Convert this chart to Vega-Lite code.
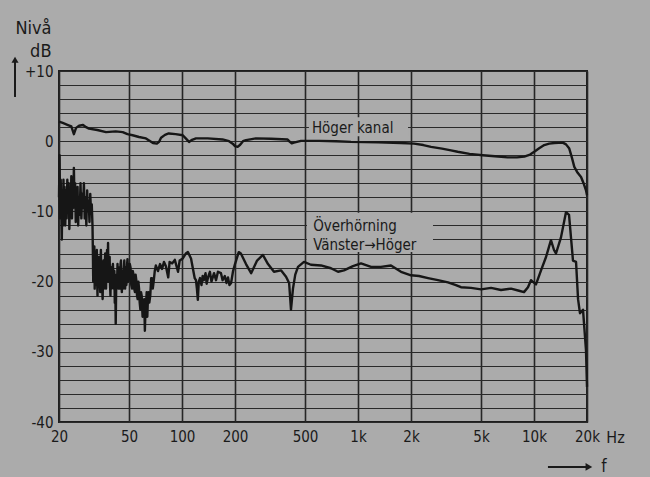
{
  "$schema": "https://vega.github.io/schema/vega-lite/v6.json",
  "width": 528,
  "height": 351,
  "autosize": {"type": "none"},
  "padding": {"left": 59, "top": 71, "right": 63, "bottom": 55},
  "background": "#ababab",
  "config": {
    "view": {"stroke": "#1e1e1e", "strokeWidth": 2},
    "font": "DejaVu Sans Condensed, Liberation Sans Narrow, DejaVu Sans, sans-serif"
  },
  "datasets": {
    "curves": [
      {"serie": "Höger kanal", "frekvens": 20, "niva": 2.8},
      {"serie": "Höger kanal", "frekvens": 21, "niva": 2.6},
      {"serie": "Höger kanal", "frekvens": 22.5, "niva": 2.3},
      {"serie": "Höger kanal", "frekvens": 23.5, "niva": 2.1},
      {"serie": "Höger kanal", "frekvens": 24.3, "niva": 1.0},
      {"serie": "Höger kanal", "frekvens": 25, "niva": 1.9},
      {"serie": "Höger kanal", "frekvens": 26, "niva": 2.2},
      {"serie": "Höger kanal", "frekvens": 27.4, "niva": 2.3},
      {"serie": "Höger kanal", "frekvens": 28.5, "niva": 2.0},
      {"serie": "Höger kanal", "frekvens": 29.6, "niva": 1.8},
      {"serie": "Höger kanal", "frekvens": 33, "niva": 1.6},
      {"serie": "Höger kanal", "frekvens": 37, "niva": 1.3},
      {"serie": "Höger kanal", "frekvens": 42, "niva": 1.4},
      {"serie": "Höger kanal", "frekvens": 46, "niva": 1.3},
      {"serie": "Höger kanal", "frekvens": 49, "niva": 1.0},
      {"serie": "Höger kanal", "frekvens": 52.4, "niva": 0.85},
      {"serie": "Höger kanal", "frekvens": 57, "niva": 0.6},
      {"serie": "Höger kanal", "frekvens": 62.4, "niva": 0.4},
      {"serie": "Höger kanal", "frekvens": 66, "niva": 0.0},
      {"serie": "Höger kanal", "frekvens": 68.4, "niva": -0.25},
      {"serie": "Höger kanal", "frekvens": 72, "niva": -0.35},
      {"serie": "Höger kanal", "frekvens": 74, "niva": -0.1},
      {"serie": "Höger kanal", "frekvens": 76, "niva": 0.5},
      {"serie": "Höger kanal", "frekvens": 80, "niva": 0.9},
      {"serie": "Höger kanal", "frekvens": 84, "niva": 1.1},
      {"serie": "Höger kanal", "frekvens": 92, "niva": 1.0},
      {"serie": "Höger kanal", "frekvens": 101, "niva": 0.85},
      {"serie": "Höger kanal", "frekvens": 105, "niva": 0.4},
      {"serie": "Höger kanal", "frekvens": 109.6, "niva": -0.1},
      {"serie": "Höger kanal", "frekvens": 114, "niva": 0.2},
      {"serie": "Höger kanal", "frekvens": 120, "niva": 0.4},
      {"serie": "Höger kanal", "frekvens": 140, "niva": 0.4},
      {"serie": "Höger kanal", "frekvens": 170, "niva": 0.25},
      {"serie": "Höger kanal", "frekvens": 185, "niva": 0.0},
      {"serie": "Höger kanal", "frekvens": 194, "niva": -0.35},
      {"serie": "Höger kanal", "frekvens": 200, "niva": -0.7},
      {"serie": "Höger kanal", "frekvens": 207, "niva": -0.8},
      {"serie": "Höger kanal", "frekvens": 214, "niva": -0.5},
      {"serie": "Höger kanal", "frekvens": 222, "niva": 0.0},
      {"serie": "Höger kanal", "frekvens": 231, "niva": 0.15},
      {"serie": "Höger kanal", "frekvens": 263, "niva": 0.4},
      {"serie": "Höger kanal", "frekvens": 320, "niva": 0.35},
      {"serie": "Höger kanal", "frekvens": 398, "niva": 0.25},
      {"serie": "Höger kanal", "frekvens": 410, "niva": -0.1},
      {"serie": "Höger kanal", "frekvens": 420, "niva": -0.3},
      {"serie": "Höger kanal", "frekvens": 432, "niva": -0.2},
      {"serie": "Höger kanal", "frekvens": 474, "niva": 0.05},
      {"serie": "Höger kanal", "frekvens": 600, "niva": 0.05},
      {"serie": "Höger kanal", "frekvens": 750, "niva": 0.0},
      {"serie": "Höger kanal", "frekvens": 912, "niva": -0.1},
      {"serie": "Höger kanal", "frekvens": 1300, "niva": -0.15},
      {"serie": "Höger kanal", "frekvens": 1755, "niva": -0.25},
      {"serie": "Höger kanal", "frekvens": 2080, "niva": -0.35},
      {"serie": "Höger kanal", "frekvens": 2350, "niva": -0.55},
      {"serie": "Höger kanal", "frekvens": 2600, "niva": -0.8},
      {"serie": "Höger kanal", "frekvens": 3000, "niva": -1.05},
      {"serie": "Höger kanal", "frekvens": 3375, "niva": -1.3},
      {"serie": "Höger kanal", "frekvens": 3680, "niva": -1.5},
      {"serie": "Höger kanal", "frekvens": 4300, "niva": -1.8},
      {"serie": "Höger kanal", "frekvens": 5110, "niva": -2.0},
      {"serie": "Höger kanal", "frekvens": 6000, "niva": -2.15},
      {"serie": "Höger kanal", "frekvens": 7080, "niva": -2.3},
      {"serie": "Höger kanal", "frekvens": 8000, "niva": -2.3},
      {"serie": "Höger kanal", "frekvens": 8800, "niva": -2.2},
      {"serie": "Höger kanal", "frekvens": 9500, "niva": -1.9},
      {"serie": "Höger kanal", "frekvens": 10030, "niva": -1.5},
      {"serie": "Höger kanal", "frekvens": 10700, "niva": -1.0},
      {"serie": "Höger kanal", "frekvens": 11430, "niva": -0.55},
      {"serie": "Höger kanal", "frekvens": 12200, "niva": -0.35},
      {"serie": "Höger kanal", "frekvens": 13030, "niva": -0.25},
      {"serie": "Höger kanal", "frekvens": 14550, "niva": -0.2},
      {"serie": "Höger kanal", "frekvens": 15200, "niva": -0.45},
      {"serie": "Höger kanal", "frekvens": 15860, "niva": -1.05},
      {"serie": "Höger kanal", "frekvens": 16400, "niva": -2.3},
      {"serie": "Höger kanal", "frekvens": 16940, "niva": -3.65},
      {"serie": "Höger kanal", "frekvens": 17700, "niva": -4.5},
      {"serie": "Höger kanal", "frekvens": 18500, "niva": -5.1},
      {"serie": "Höger kanal", "frekvens": 19200, "niva": -6.1},
      {"serie": "Höger kanal", "frekvens": 19740, "niva": -7.0},
      {"serie": "Höger kanal", "frekvens": 20000, "niva": -7.7},

      {"serie": "Överhörning", "frekvens": 20.0, "niva": -8},
      {"serie": "Överhörning", "frekvens": 20.15, "niva": -2},
      {"serie": "Överhörning", "frekvens": 20.3, "niva": -11},
      {"serie": "Överhörning", "frekvens": 20.45, "niva": -5.5},
      {"serie": "Överhörning", "frekvens": 20.6, "niva": -9},
      {"serie": "Överhörning", "frekvens": 20.75, "niva": -14},
      {"serie": "Överhörning", "frekvens": 20.9, "niva": -7},
      {"serie": "Överhörning", "frekvens": 21.05, "niva": -12},
      {"serie": "Överhörning", "frekvens": 21.2, "niva": -5.5},
      {"serie": "Överhörning", "frekvens": 21.35, "niva": -10},
      {"serie": "Överhörning", "frekvens": 21.5, "niva": -6.5},
      {"serie": "Överhörning", "frekvens": 21.7, "niva": -12},
      {"serie": "Överhörning", "frekvens": 21.9, "niva": -7},
      {"serie": "Överhörning", "frekvens": 22.1, "niva": -11},
      {"serie": "Överhörning", "frekvens": 22.3, "niva": -5.5},
      {"serie": "Överhörning", "frekvens": 22.5, "niva": -9.5},
      {"serie": "Överhörning", "frekvens": 22.7, "niva": -6},
      {"serie": "Överhörning", "frekvens": 22.9, "niva": -12.5},
      {"serie": "Överhörning", "frekvens": 23.1, "niva": -8},
      {"serie": "Överhörning", "frekvens": 23.3, "niva": -10.5},
      {"serie": "Överhörning", "frekvens": 23.5, "niva": -5},
      {"serie": "Överhörning", "frekvens": 23.7, "niva": -11},
      {"serie": "Överhörning", "frekvens": 23.9, "niva": -7},
      {"serie": "Överhörning", "frekvens": 24.1, "niva": -9.5},
      {"serie": "Överhörning", "frekvens": 24.3, "niva": -3.8},
      {"serie": "Överhörning", "frekvens": 24.5, "niva": -9},
      {"serie": "Överhörning", "frekvens": 24.7, "niva": -6},
      {"serie": "Överhörning", "frekvens": 24.9, "niva": -11.5},
      {"serie": "Överhörning", "frekvens": 25.1, "niva": -7.5},
      {"serie": "Överhörning", "frekvens": 25.3, "niva": -10},
      {"serie": "Överhörning", "frekvens": 25.5, "niva": -6.5},
      {"serie": "Överhörning", "frekvens": 25.7, "niva": -12},
      {"serie": "Överhörning", "frekvens": 25.9, "niva": -8},
      {"serie": "Överhörning", "frekvens": 26.2, "niva": -10.5},
      {"serie": "Överhörning", "frekvens": 26.5, "niva": -6},
      {"serie": "Överhörning", "frekvens": 26.8, "niva": -11},
      {"serie": "Överhörning", "frekvens": 27.1, "niva": -7.5},
      {"serie": "Överhörning", "frekvens": 27.4, "niva": -9.5},
      {"serie": "Överhörning", "frekvens": 27.7, "niva": -6},
      {"serie": "Överhörning", "frekvens": 28.0, "niva": -11},
      {"serie": "Överhörning", "frekvens": 28.3, "niva": -8},
      {"serie": "Överhörning", "frekvens": 28.6, "niva": -12},
      {"serie": "Överhörning", "frekvens": 28.9, "niva": -7},
      {"serie": "Överhörning", "frekvens": 29.2, "niva": -10},
      {"serie": "Överhörning", "frekvens": 29.5, "niva": -8.5},
      {"serie": "Överhörning", "frekvens": 29.8, "niva": -11.5},
      {"serie": "Överhörning", "frekvens": 30.1, "niva": -7.5},
      {"serie": "Överhörning", "frekvens": 30.4, "niva": -10},
      {"serie": "Överhörning", "frekvens": 30.7, "niva": -9},
      {"serie": "Överhörning", "frekvens": 31.0, "niva": -12},
      {"serie": "Överhörning", "frekvens": 31.15, "niva": -15.5},
      {"serie": "Överhörning", "frekvens": 31.3, "niva": -20},
      {"serie": "Överhörning", "frekvens": 31.45, "niva": -16},
      {"serie": "Överhörning", "frekvens": 31.6, "niva": -19},
      {"serie": "Överhörning", "frekvens": 31.75, "niva": -15},
      {"serie": "Överhörning", "frekvens": 31.9, "niva": -21},
      {"serie": "Överhörning", "frekvens": 32.05, "niva": -17},
      {"serie": "Överhörning", "frekvens": 32.2, "niva": -20.5},
      {"serie": "Överhörning", "frekvens": 32.35, "niva": -16},
      {"serie": "Överhörning", "frekvens": 32.5, "niva": -19.5},
      {"serie": "Överhörning", "frekvens": 32.65, "niva": -17.5},
      {"serie": "Överhörning", "frekvens": 32.8, "niva": -15.5},
      {"serie": "Överhörning", "frekvens": 32.95, "niva": -20},
      {"serie": "Överhörning", "frekvens": 33.1, "niva": -22},
      {"serie": "Överhörning", "frekvens": 33.25, "niva": -17.5},
      {"serie": "Överhörning", "frekvens": 33.4, "niva": -19.5},
      {"serie": "Överhörning", "frekvens": 33.55, "niva": -16.5},
      {"serie": "Överhörning", "frekvens": 33.7, "niva": -20},
      {"serie": "Överhörning", "frekvens": 33.85, "niva": -18},
      {"serie": "Överhörning", "frekvens": 34.0, "niva": -16.5},
      {"serie": "Överhörning", "frekvens": 34.15, "niva": -20.5},
      {"serie": "Överhörning", "frekvens": 34.3, "niva": -21.5},
      {"serie": "Överhörning", "frekvens": 34.45, "niva": -17},
      {"serie": "Överhörning", "frekvens": 34.6, "niva": -15.5},
      {"serie": "Överhörning", "frekvens": 34.8, "niva": -19.5},
      {"serie": "Överhörning", "frekvens": 35.0, "niva": -18},
      {"serie": "Överhörning", "frekvens": 35.2, "niva": -21},
      {"serie": "Överhörning", "frekvens": 35.4, "niva": -22.5},
      {"serie": "Överhörning", "frekvens": 35.6, "niva": -18.5},
      {"serie": "Överhörning", "frekvens": 35.8, "niva": -17},
      {"serie": "Överhörning", "frekvens": 36.0, "niva": -21},
      {"serie": "Överhörning", "frekvens": 36.2, "niva": -20},
      {"serie": "Överhörning", "frekvens": 36.4, "niva": -17.5},
      {"serie": "Överhörning", "frekvens": 36.6, "niva": -16},
      {"serie": "Överhörning", "frekvens": 36.8, "niva": -19.5},
      {"serie": "Överhörning", "frekvens": 37.0, "niva": -21},
      {"serie": "Överhörning", "frekvens": 37.25, "niva": -17.5},
      {"serie": "Överhörning", "frekvens": 37.5, "niva": -15.5},
      {"serie": "Överhörning", "frekvens": 37.75, "niva": -18.5},
      {"serie": "Överhörning", "frekvens": 38.0, "niva": -14.5},
      {"serie": "Överhörning", "frekvens": 38.2, "niva": -20},
      {"serie": "Överhörning", "frekvens": 38.4, "niva": -19},
      {"serie": "Överhörning", "frekvens": 38.6, "niva": -17},
      {"serie": "Överhörning", "frekvens": 38.8, "niva": -16.5},
      {"serie": "Överhörning", "frekvens": 39.0, "niva": -20.5},
      {"serie": "Överhörning", "frekvens": 39.2, "niva": -22},
      {"serie": "Överhörning", "frekvens": 39.4, "niva": -18.5},
      {"serie": "Överhörning", "frekvens": 39.6, "niva": -18},
      {"serie": "Överhörning", "frekvens": 39.8, "niva": -21},
      {"serie": "Överhörning", "frekvens": 40.0, "niva": -20.5},
      {"serie": "Överhörning", "frekvens": 40.25, "niva": -18},
      {"serie": "Överhörning", "frekvens": 40.5, "niva": -17.5},
      {"serie": "Överhörning", "frekvens": 40.75, "niva": -20},
      {"serie": "Överhörning", "frekvens": 41.0, "niva": -21},
      {"serie": "Överhörning", "frekvens": 41.25, "niva": -18.5},
      {"serie": "Överhörning", "frekvens": 41.5, "niva": -23},
      {"serie": "Överhörning", "frekvens": 41.75, "niva": -20},
      {"serie": "Överhörning", "frekvens": 42.0, "niva": -26},
      {"serie": "Överhörning", "frekvens": 42.25, "niva": -21},
      {"serie": "Överhörning", "frekvens": 42.5, "niva": -19},
      {"serie": "Överhörning", "frekvens": 42.75, "niva": -20.5},
      {"serie": "Överhörning", "frekvens": 43.0, "niva": -17.5},
      {"serie": "Överhörning", "frekvens": 43.25, "niva": -20},
      {"serie": "Överhörning", "frekvens": 43.5, "niva": -21},
      {"serie": "Överhörning", "frekvens": 43.75, "niva": -18.5},
      {"serie": "Överhörning", "frekvens": 44.0, "niva": -18},
      {"serie": "Överhörning", "frekvens": 44.25, "niva": -21},
      {"serie": "Överhörning", "frekvens": 44.5, "niva": -20.5},
      {"serie": "Överhörning", "frekvens": 44.75, "niva": -17.5},
      {"serie": "Överhörning", "frekvens": 45.0, "niva": -17},
      {"serie": "Överhörning", "frekvens": 45.25, "niva": -20},
      {"serie": "Överhörning", "frekvens": 45.5, "niva": -21.5},
      {"serie": "Överhörning", "frekvens": 45.75, "niva": -19},
      {"serie": "Överhörning", "frekvens": 46.0, "niva": -18.5},
      {"serie": "Överhörning", "frekvens": 46.25, "niva": -21},
      {"serie": "Överhörning", "frekvens": 46.5, "niva": -20},
      {"serie": "Överhörning", "frekvens": 46.75, "niva": -18},
      {"serie": "Överhörning", "frekvens": 47.0, "niva": -17},
      {"serie": "Överhörning", "frekvens": 47.25, "niva": -19.5},
      {"serie": "Överhörning", "frekvens": 47.5, "niva": -21},
      {"serie": "Överhörning", "frekvens": 47.75, "niva": -18.5},
      {"serie": "Överhörning", "frekvens": 48.0, "niva": -18},
      {"serie": "Överhörning", "frekvens": 48.25, "niva": -20.5},
      {"serie": "Överhörning", "frekvens": 48.5, "niva": -20},
      {"serie": "Överhörning", "frekvens": 48.75, "niva": -17.5},
      {"serie": "Överhörning", "frekvens": 49.0, "niva": -16.8},
      {"serie": "Överhörning", "frekvens": 49.5, "niva": -20},
      {"serie": "Överhörning", "frekvens": 50.0, "niva": -19.5},
      {"serie": "Överhörning", "frekvens": 50.5, "niva": -17.5},
      {"serie": "Överhörning", "frekvens": 51, "niva": -18},
      {"serie": "Överhörning", "frekvens": 51.5, "niva": -20.5},
      {"serie": "Överhörning", "frekvens": 52, "niva": -21},
      {"serie": "Överhörning", "frekvens": 52.5, "niva": -18.5},
      {"serie": "Överhörning", "frekvens": 53, "niva": -19},
      {"serie": "Överhörning", "frekvens": 53.5, "niva": -21},
      {"serie": "Överhörning", "frekvens": 54, "niva": -21.5},
      {"serie": "Överhörning", "frekvens": 54.5, "niva": -19},
      {"serie": "Överhörning", "frekvens": 55, "niva": -19.8},
      {"serie": "Överhörning", "frekvens": 55.5, "niva": -22},
      {"serie": "Överhörning", "frekvens": 56, "niva": -22.5},
      {"serie": "Överhörning", "frekvens": 56.5, "niva": -20},
      {"serie": "Överhörning", "frekvens": 57, "niva": -21},
      {"serie": "Överhörning", "frekvens": 57.5, "niva": -23},
      {"serie": "Överhörning", "frekvens": 58, "niva": -24},
      {"serie": "Överhörning", "frekvens": 58.5, "niva": -21.5},
      {"serie": "Överhörning", "frekvens": 59, "niva": -22},
      {"serie": "Överhörning", "frekvens": 59.7, "niva": -25},
      {"serie": "Överhörning", "frekvens": 60.5, "niva": -24.5},
      {"serie": "Överhörning", "frekvens": 61, "niva": -22.5},
      {"serie": "Överhörning", "frekvens": 61.5, "niva": -27},
      {"serie": "Överhörning", "frekvens": 62, "niva": -24},
      {"serie": "Överhörning", "frekvens": 62.5, "niva": -23},
      {"serie": "Överhörning", "frekvens": 63, "niva": -21.5},
      {"serie": "Överhörning", "frekvens": 63.5, "niva": -25},
      {"serie": "Överhörning", "frekvens": 64, "niva": -22.5},
      {"serie": "Överhörning", "frekvens": 64.5, "niva": -21.5},
      {"serie": "Överhörning", "frekvens": 65.2, "niva": -23},
      {"serie": "Överhörning", "frekvens": 66, "niva": -22},
      {"serie": "Överhörning", "frekvens": 66.8, "niva": -19.5},
      {"serie": "Överhörning", "frekvens": 67.5, "niva": -19.5},
      {"serie": "Överhörning", "frekvens": 68.2, "niva": -21},
      {"serie": "Överhörning", "frekvens": 69, "niva": -20},
      {"serie": "Överhörning", "frekvens": 70, "niva": -18.5},
      {"serie": "Överhörning", "frekvens": 71, "niva": -17.7},
      {"serie": "Överhörning", "frekvens": 73, "niva": -18.5},
      {"serie": "Överhörning", "frekvens": 75, "niva": -17.5},
      {"serie": "Överhörning", "frekvens": 77, "niva": -18.2},
      {"serie": "Överhörning", "frekvens": 79, "niva": -17.2},
      {"serie": "Överhörning", "frekvens": 81, "niva": -17.8},
      {"serie": "Överhörning", "frekvens": 83.5, "niva": -19.4},
      {"serie": "Överhörning", "frekvens": 85, "niva": -17.2},
      {"serie": "Överhörning", "frekvens": 88, "niva": -17.4},
      {"serie": "Överhörning", "frekvens": 91, "niva": -16.9},
      {"serie": "Överhörning", "frekvens": 94.9, "niva": -18.6},
      {"serie": "Överhörning", "frekvens": 97, "niva": -17},
      {"serie": "Överhörning", "frekvens": 101, "niva": -16.7},
      {"serie": "Överhörning", "frekvens": 105, "niva": -16},
      {"serie": "Överhörning", "frekvens": 108, "niva": -15.8},
      {"serie": "Överhörning", "frekvens": 112.5, "niva": -16.7},
      {"serie": "Överhörning", "frekvens": 115, "niva": -18},
      {"serie": "Överhörning", "frekvens": 118, "niva": -19.5},
      {"serie": "Överhörning", "frekvens": 120, "niva": -19.8},
      {"serie": "Överhörning", "frekvens": 121.5, "niva": -21},
      {"serie": "Överhörning", "frekvens": 123, "niva": -22.6},
      {"serie": "Överhörning", "frekvens": 124.5, "niva": -20},
      {"serie": "Överhörning", "frekvens": 126.5, "niva": -19.5},
      {"serie": "Överhörning", "frekvens": 129, "niva": -20.5},
      {"serie": "Överhörning", "frekvens": 131, "niva": -19.2},
      {"serie": "Överhörning", "frekvens": 133, "niva": -19.8},
      {"serie": "Överhörning", "frekvens": 136, "niva": -18.8},
      {"serie": "Överhörning", "frekvens": 138, "niva": -20.3},
      {"serie": "Överhörning", "frekvens": 140.5, "niva": -19.4},
      {"serie": "Överhörning", "frekvens": 144, "niva": -18.6},
      {"serie": "Överhörning", "frekvens": 147, "niva": -20},
      {"serie": "Överhörning", "frekvens": 152, "niva": -18.8},
      {"serie": "Överhörning", "frekvens": 156, "niva": -19.8},
      {"serie": "Överhörning", "frekvens": 160, "niva": -18.6},
      {"serie": "Överhörning", "frekvens": 166.5, "niva": -18.8},
      {"serie": "Överhörning", "frekvens": 170, "niva": -19.8},
      {"serie": "Överhörning", "frekvens": 175, "niva": -19.2},
      {"serie": "Överhörning", "frekvens": 179, "niva": -20.2},
      {"serie": "Överhörning", "frekvens": 182.5, "niva": -19.4},
      {"serie": "Överhörning", "frekvens": 186, "niva": -20.5},
      {"serie": "Överhörning", "frekvens": 190, "niva": -20.2},
      {"serie": "Överhörning", "frekvens": 195, "niva": -18.5},
      {"serie": "Överhörning", "frekvens": 200, "niva": -17.5},
      {"serie": "Överhörning", "frekvens": 210, "niva": -15.8},
      {"serie": "Överhörning", "frekvens": 216, "niva": -16},
      {"serie": "Överhörning", "frekvens": 231, "niva": -17.5},
      {"serie": "Överhörning", "frekvens": 247, "niva": -18.8},
      {"serie": "Överhörning", "frekvens": 267, "niva": -17},
      {"serie": "Överhörning", "frekvens": 288, "niva": -16.2},
      {"serie": "Överhörning", "frekvens": 308, "niva": -17.5},
      {"serie": "Överhörning", "frekvens": 333, "niva": -18.6},
      {"serie": "Överhörning", "frekvens": 365, "niva": -18.4},
      {"serie": "Överhörning", "frekvens": 390, "niva": -19.3},
      {"serie": "Överhörning", "frekvens": 406, "niva": -20.2},
      {"serie": "Överhörning", "frekvens": 416, "niva": -24},
      {"serie": "Överhörning", "frekvens": 427, "niva": -21},
      {"serie": "Överhörning", "frekvens": 440, "niva": -19},
      {"serie": "Överhörning", "frekvens": 456, "niva": -17.9},
      {"serie": "Överhörning", "frekvens": 493, "niva": -17.2},
      {"serie": "Överhörning", "frekvens": 540, "niva": -17.6},
      {"serie": "Överhörning", "frekvens": 616, "niva": -17.7},
      {"serie": "Överhörning", "frekvens": 702, "niva": -18.1},
      {"serie": "Överhörning", "frekvens": 770, "niva": -18.6},
      {"serie": "Överhörning", "frekvens": 832, "niva": -18.4},
      {"serie": "Överhörning", "frekvens": 936, "niva": -17.8},
      {"serie": "Överhörning", "frekvens": 1040, "niva": -17.4},
      {"serie": "Överhörning", "frekvens": 1186, "niva": -17.9},
      {"serie": "Överhörning", "frekvens": 1350, "niva": -17.9},
      {"serie": "Överhörning", "frekvens": 1539, "niva": -17.7},
      {"serie": "Överhörning", "frekvens": 1755, "niva": -18.6},
      {"serie": "Överhörning", "frekvens": 2000, "niva": -19.1},
      {"serie": "Överhörning", "frekvens": 2220, "niva": -19.2},
      {"serie": "Överhörning", "frekvens": 2500, "niva": -19.5},
      {"serie": "Överhörning", "frekvens": 2845, "niva": -19.8},
      {"serie": "Överhörning", "frekvens": 3245, "niva": -20.1},
      {"serie": "Överhörning", "frekvens": 3600, "niva": -20.5},
      {"serie": "Överhörning", "frekvens": 3845, "niva": -20.8},
      {"serie": "Överhörning", "frekvens": 4385, "niva": -20.9},
      {"serie": "Överhörning", "frekvens": 5000, "niva": -21.1},
      {"serie": "Överhörning", "frekvens": 5700, "niva": -20.9},
      {"serie": "Överhörning", "frekvens": 6490, "niva": -21.2},
      {"serie": "Överhörning", "frekvens": 7400, "niva": -21.0},
      {"serie": "Överhörning", "frekvens": 8220, "niva": -21.3},
      {"serie": "Överhörning", "frekvens": 8770, "niva": -21.5},
      {"serie": "Överhörning", "frekvens": 9240, "niva": -20.8},
      {"serie": "Överhörning", "frekvens": 9610, "niva": -19.8},
      {"serie": "Överhörning", "frekvens": 10260, "niva": -20.4},
      {"serie": "Överhörning", "frekvens": 10960, "niva": -18.4},
      {"serie": "Överhörning", "frekvens": 11700, "niva": -16.5},
      {"serie": "Överhörning", "frekvens": 12480, "niva": -14.1},
      {"serie": "Överhörning", "frekvens": 12990, "niva": -15.5},
      {"serie": "Överhörning", "frekvens": 13330, "niva": -16},
      {"serie": "Överhörning", "frekvens": 14230, "niva": -13.7},
      {"serie": "Överhörning", "frekvens": 15200, "niva": -10.1},
      {"serie": "Överhörning", "frekvens": 15810, "niva": -10.5},
      {"serie": "Överhörning", "frekvens": 16650, "niva": -17},
      {"serie": "Överhörning", "frekvens": 17330, "niva": -17.2},
      {"serie": "Överhörning", "frekvens": 17790, "niva": -22.5},
      {"serie": "Överhörning", "frekvens": 18240, "niva": -24.5},
      {"serie": "Överhörning", "frekvens": 18980, "niva": -24},
      {"serie": "Överhörning", "frekvens": 19740, "niva": -29.8},
      {"serie": "Överhörning", "frekvens": 20000, "niva": -35}
    ],
    "boxes": [
      {"etikett": "Höger kanal", "f1": 526, "f2": 1924, "d1": 0.7, "d2": 3.4},
      {"etikett": "Överhörning", "f1": 513, "f2": 2667, "d1": -10.2, "d2": -15.8}
    ],
    "texts": [
      {"text": "Höger kanal", "frekvens": 547, "niva": 1.9},
      {"text": "Överhörning", "frekvens": 556, "niva": -12.1},
      {"text": "Vänster→Höger", "frekvens": 556, "niva": -14.8}
    ],
    "arrowLines": [
      {"axel": "y", "x1": 11.25, "x2": 11.25, "y1": 6.3, "y2": 11.3},
      {"axel": "x", "x1": 12000, "x2": 20000, "y1": -46.4, "y2": -46.4}
    ]
  },
  "layer": [
    {
      "data": {"name": "boxes"},
      "mark": {"type": "rect", "fill": "#ababab", "stroke": null},
      "encoding": {
        "x": {"field": "f1", "type": "quantitative", "scale": {"type": "log", "domain": [20, 20000], "nice": false}},
        "x2": {"field": "f2"},
        "y": {"field": "d1", "type": "quantitative", "scale": {"domain": [-40, 10], "nice": false, "zero": false}},
        "y2": {"field": "d2"}
      }
    },
    {
      "data": {"name": "curves"},
      "mark": {"type": "line", "stroke": "#161616", "strokeWidth": 2.4, "strokeJoin": "round", "clip": false},
      "encoding": {
        "x": {
          "field": "frekvens", "type": "quantitative",
          "scale": {"type": "log", "domain": [20, 20000], "nice": false},
          "axis": {
            "values": [20, 50, 100, 200, 500, 1000, 2000, 5000, 10000, 20000],
            "tickCount": 30,
            "labelExpr": "datum.value >= 1000 ? (datum.value / 1000) + 'k' : '' + datum.value",
            "grid": true, "gridColor": "#262626", "gridWidth": 1.6, "gridOpacity": 1,
            "ticks": false, "domain": false,
            "labelFlush": false, "labelOverlap": false, "labelBound": false,
            "labelFontSize": 15, "labelColor": "#1a1a1a", "labelPadding": 7,
            "title": "Hz", "titleX": 556, "titleY": 15, "titleAlign": "center",
            "titleBaseline": "middle", "titleFontSize": 16, "titleFontWeight": "normal", "titleColor": "#1a1a1a"
          }
        },
        "y": {
          "field": "niva", "type": "quantitative",
          "scale": {"domain": [-40, 10], "nice": false, "zero": false},
          "axis": {
            "values": [-40, -38, -36, -34, -32, -30, -28, -26, -24, -22, -20, -18, -16, -14, -12, -10, -8, -6, -4, -2, 0, 2, 4, 6, 8, 10],
            "tickCount": 60,
            "labelExpr": "datum.value == 10 ? '+10' : (datum.value % 10 == 0 ? '' + datum.value : '')",
            "grid": true, "gridColor": "#2a2a2a", "gridWidth": 1.2, "gridOpacity": 1,
            "ticks": false, "domain": false,
            "labelFontSize": 15, "labelColor": "#1a1a1a", "labelPadding": 6, "labelOverlap": false,
            "title": ["Nivå", "dB"], "titleAngle": 0, "titleAlign": "right",
            "titleX": -8, "titleY": -52, "titleBaseline": "top", "titleLineHeight": 23,
            "titleFontSize": 18, "titleFontWeight": "normal", "titleColor": "#1a1a1a"
          }
        },
        "detail": {"field": "serie", "type": "nominal"}
      }
    },
    {
      "data": {"name": "texts"},
      "mark": {"type": "text", "align": "left", "baseline": "middle", "fontSize": 15, "color": "#1a1a1a"},
      "encoding": {
        "x": {"field": "frekvens", "type": "quantitative"},
        "y": {"field": "niva", "type": "quantitative"},
        "text": {"field": "text"}
      }
    },
    {
      "data": {"name": "arrowLines"},
      "mark": {"type": "rule", "stroke": "#1a1a1a", "strokeWidth": 2, "clip": false},
      "encoding": {
        "x": {"field": "x1", "type": "quantitative"},
        "x2": {"field": "x2"},
        "y": {"field": "y1", "type": "quantitative"},
        "y2": {"field": "y2"}
      }
    },
    {
      "data": {"values": [{"frekvens": 11.25, "niva": 11.6}]},
      "mark": {"type": "point", "shape": "triangle-up", "filled": true, "color": "#1a1a1a", "size": 50, "opacity": 1, "clip": false},
      "encoding": {
        "x": {"field": "frekvens", "type": "quantitative"},
        "y": {"field": "niva", "type": "quantitative"}
      }
    },
    {
      "data": {"values": [{"frekvens": 20500, "niva": -46.4}]},
      "mark": {"type": "point", "shape": "triangle-right", "filled": true, "color": "#1a1a1a", "size": 60, "opacity": 1, "clip": false},
      "encoding": {
        "x": {"field": "frekvens", "type": "quantitative"},
        "y": {"field": "niva", "type": "quantitative"}
      }
    },
    {
      "data": {"values": [{"text": "f", "frekvens": 25000, "niva": -46.4}]},
      "mark": {"type": "text", "align": "center", "baseline": "middle", "fontSize": 17, "color": "#1a1a1a", "clip": false},
      "encoding": {
        "x": {"field": "frekvens", "type": "quantitative"},
        "y": {"field": "niva", "type": "quantitative"},
        "text": {"field": "text"}
      }
    }
  ]
}
